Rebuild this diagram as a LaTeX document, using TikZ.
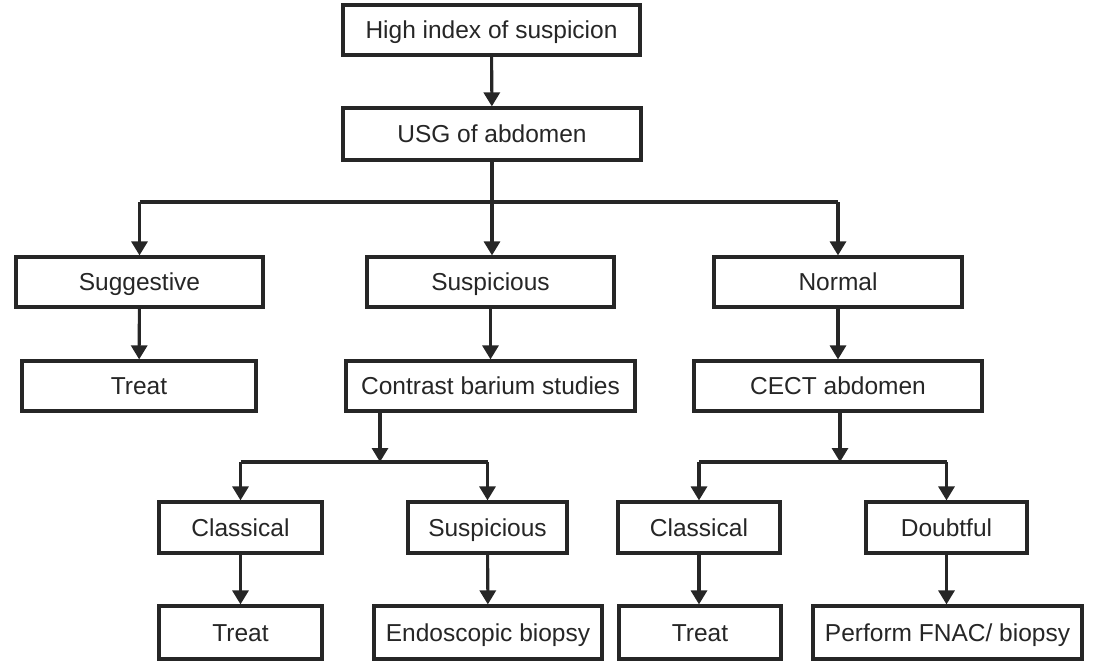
\documentclass[tikz,border=0pt]{standalone}
\usepackage{fontspec}
\setmainfont{Liberation Sans}
\usetikzlibrary{arrows.meta}
\definecolor{ink}{gray}{0.15}
\tikzset{
  box/.style={draw=ink, line width=3.2pt, fill=white, text=ink, inner sep=0pt,
    font=\fontsize{24.5}{28}\selectfont, text height=17.6pt, text depth=0pt},
  flow/.style={draw=ink, line width=3.1pt, -{Triangle[width=16pt,length=14pt]}},
  wire/.style={draw=ink, line width=3.1pt}
}
\begin{document}
\begin{tikzpicture}[x=1pt,y=-1pt]
\useasboundingbox (0,0) rectangle (1095,662);

% first two levels
\node[box, minimum width=297pt, minimum height=50pt] (top)  at (491.5,30)  {High index of suspicion};
\node[box, minimum width=298pt, minimum height=52pt] (usg)  at (492,134)   {USG of abdomen};

% findings on ultrasound
\node[box, minimum width=247pt, minimum height=50pt] (sugg) at (139.5,282) {Suggestive};
\node[box, minimum width=247pt, minimum height=50pt] (susp) at (490.5,282) {Suspicious};
\node[box, minimum width=248pt, minimum height=50pt] (norm) at (838,282)   {Normal};

% next step
\node[box, minimum width=234pt, minimum height=50pt] (treatA)   at (139,386)   {Treat};
\node[box, minimum width=289pt, minimum height=50pt] (contrast) at (490.5,386) {Contrast barium studies};
\node[box, minimum width=288pt, minimum height=50pt] (cect)     at (838,386)   {CECT abdomen};

% results of the second investigation
\node[box, minimum width=163pt, minimum height=51pt] (classA) at (240.5,527.5) {Classical};
\node[box, minimum width=159pt, minimum height=51pt] (suspB)  at (487.5,527.5) {Suspicious};
\node[box, minimum width=162pt, minimum height=51pt] (classB) at (699,527.5)   {Classical};
\node[box, minimum width=161pt, minimum height=51pt] (doubt)  at (946.5,527.5) {Doubtful};

% final actions
\node[box, minimum width=163pt, minimum height=53pt] (treatB)  at (240.5,632.5) {Treat};
\node[box, minimum width=228pt, minimum height=53pt] (endo)    at (488,632.5)   {Endoscopic biopsy};
\node[box, minimum width=162pt, minimum height=53pt] (treatC)  at (700,632.5)   {Treat};
\node[box, minimum width=269pt, minimum height=53pt] (perform) at (947.5,632.5) {Perform FNAC/ biopsy};

% junction points of the branching connectors
\coordinate (j1) at (492,202);
\coordinate (c2) at (380,412);
\coordinate (j2) at (380,462);
\coordinate (j3) at (840,462);

% connectors
\draw[flow] (top) -- (usg);
\draw[wire] (usg.south) -- (j1);
\draw[wire] (sugg.north |- j1) -- (norm.north |- j1);
\draw[flow] (sugg.north |- j1) -- (sugg.north);
\draw[flow] (j1) -- (j1 |- susp.north);
\draw[flow] (norm.north |- j1) -- (norm.north);

\draw[flow] (sugg) -- (treatA);
\draw[flow] (susp) -- (contrast);
\draw[flow] (norm) -- (cect);

\draw[flow] (c2) -- (j2);
\draw[wire] (classA.north |- j2) -- (suspB.north |- j2);
\draw[flow] (classA.north |- j2) -- (classA.north);
\draw[flow] (suspB.north |- j2) -- (suspB.north);

\draw[flow] (cect.south -| j3) -- (j3);
\draw[wire] (classB.north |- j3) -- (doubt.north |- j3);
\draw[flow] (classB.north |- j3) -- (classB.north);
\draw[flow] (doubt.north |- j3) -- (doubt.north);

\draw[flow] (classA) -- (treatB);
\draw[flow] (suspB) -- (endo);
\draw[flow] (classB.south) -- (classB.south |- treatC.north);
\draw[flow] (doubt) -- (doubt.south |- perform.north);
\end{tikzpicture}
\end{document}
